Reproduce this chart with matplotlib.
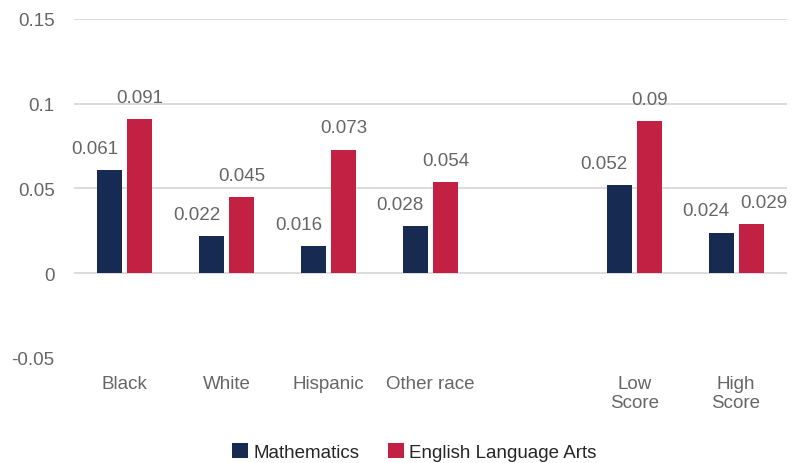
import numpy as np
import matplotlib
matplotlib.use("Agg")
import matplotlib.pyplot as plt

plt.rcParams['font.family'] = ['Liberation Sans', 'DejaVu Sans']

categories = ["Black", "White", "Hispanic", "Other race", "", "Low\nScore", "High\nScore"]
math_vals = [0.061, 0.022, 0.016, 0.028, None, 0.052, 0.024]
ela_vals = [0.091, 0.045, 0.073, 0.054, None, 0.090, 0.029]
series_names = ["Mathematics", "English Language Arts"]
y_ticks = [-0.05, 0, 0.05, 0.1, 0.15]
y_tick_labels = ["-0.05", "0", "0.05", "0.1", "0.15"]

navy = "#172a52"
crimson = "#c32143"
label_gray = "#666666"
grid_gray = "#d9d9d9"
fs = 13.5

fig = plt.figure(figsize=(7.92, 4.64), dpi=100)
ax = fig.add_axes([0.0934, 0.2263, 0.9003, 0.7306])

x = np.arange(len(categories))
width = 0.245
offset = 0.147

idx = [i for i, v in enumerate(math_vals) if v is not None]
m = [math_vals[i] for i in idx]
e = [ela_vals[i] for i in idx]
xi = x[idx]

bm = ax.bar(xi - offset, m, width, color=navy, label=series_names[0], zorder=3)
be = ax.bar(xi + offset, e, width, color=crimson, label=series_names[1], zorder=3)

# value labels: math labels nudged left so they clear the neighbouring bar
for rect, v in zip(bm, m):
    ax.annotate(f"{v:g}", (rect.get_x() + rect.get_width() / 2, v),
                xytext=(-11, 9.5), textcoords="offset points",
                ha="center", va="bottom", fontsize=fs, color=label_gray)
ela_shift = [0, 0, 0, 0, 0, 9]
for rect, v, s in zip(be, e, ela_shift):
    ax.annotate(f"{v:g}", (rect.get_x() + rect.get_width() / 2, v),
                xytext=(s, 9.5), textcoords="offset points",
                ha="center", va="bottom", fontsize=fs, color=label_gray,
                annotation_clip=False)

ax.set_xlim(-0.5, len(categories) - 0.5)
ax.set_ylim(-0.05, 0.15)
ax.set_yticks(y_ticks)
ax.set_yticklabels(y_tick_labels)
ax.set_xticks(x)
ax.set_xticklabels(categories, va="top", linespacing=1.2)

for yv in y_ticks[1:]:
    ax.axhline(yv, color=grid_gray, linewidth=1.3, zorder=1)

for sp in ax.spines.values():
    sp.set_visible(False)
ax.tick_params(axis="both", length=0, labelsize=fs, colors=label_gray)
ax.tick_params(axis="y", pad=14)
ax.tick_params(axis="x", pad=12)

fig.legend(handles=[bm, be], labels=series_names, loc="center",
           bbox_to_anchor=(0.523, 0.024), ncol=2, frameon=False,
           fontsize=fs, handlelength=0.85, handleheight=0.85,
           handletextpad=0.3, columnspacing=1.5, labelcolor="#262626")

fig.savefig("out.png", dpi=100)
